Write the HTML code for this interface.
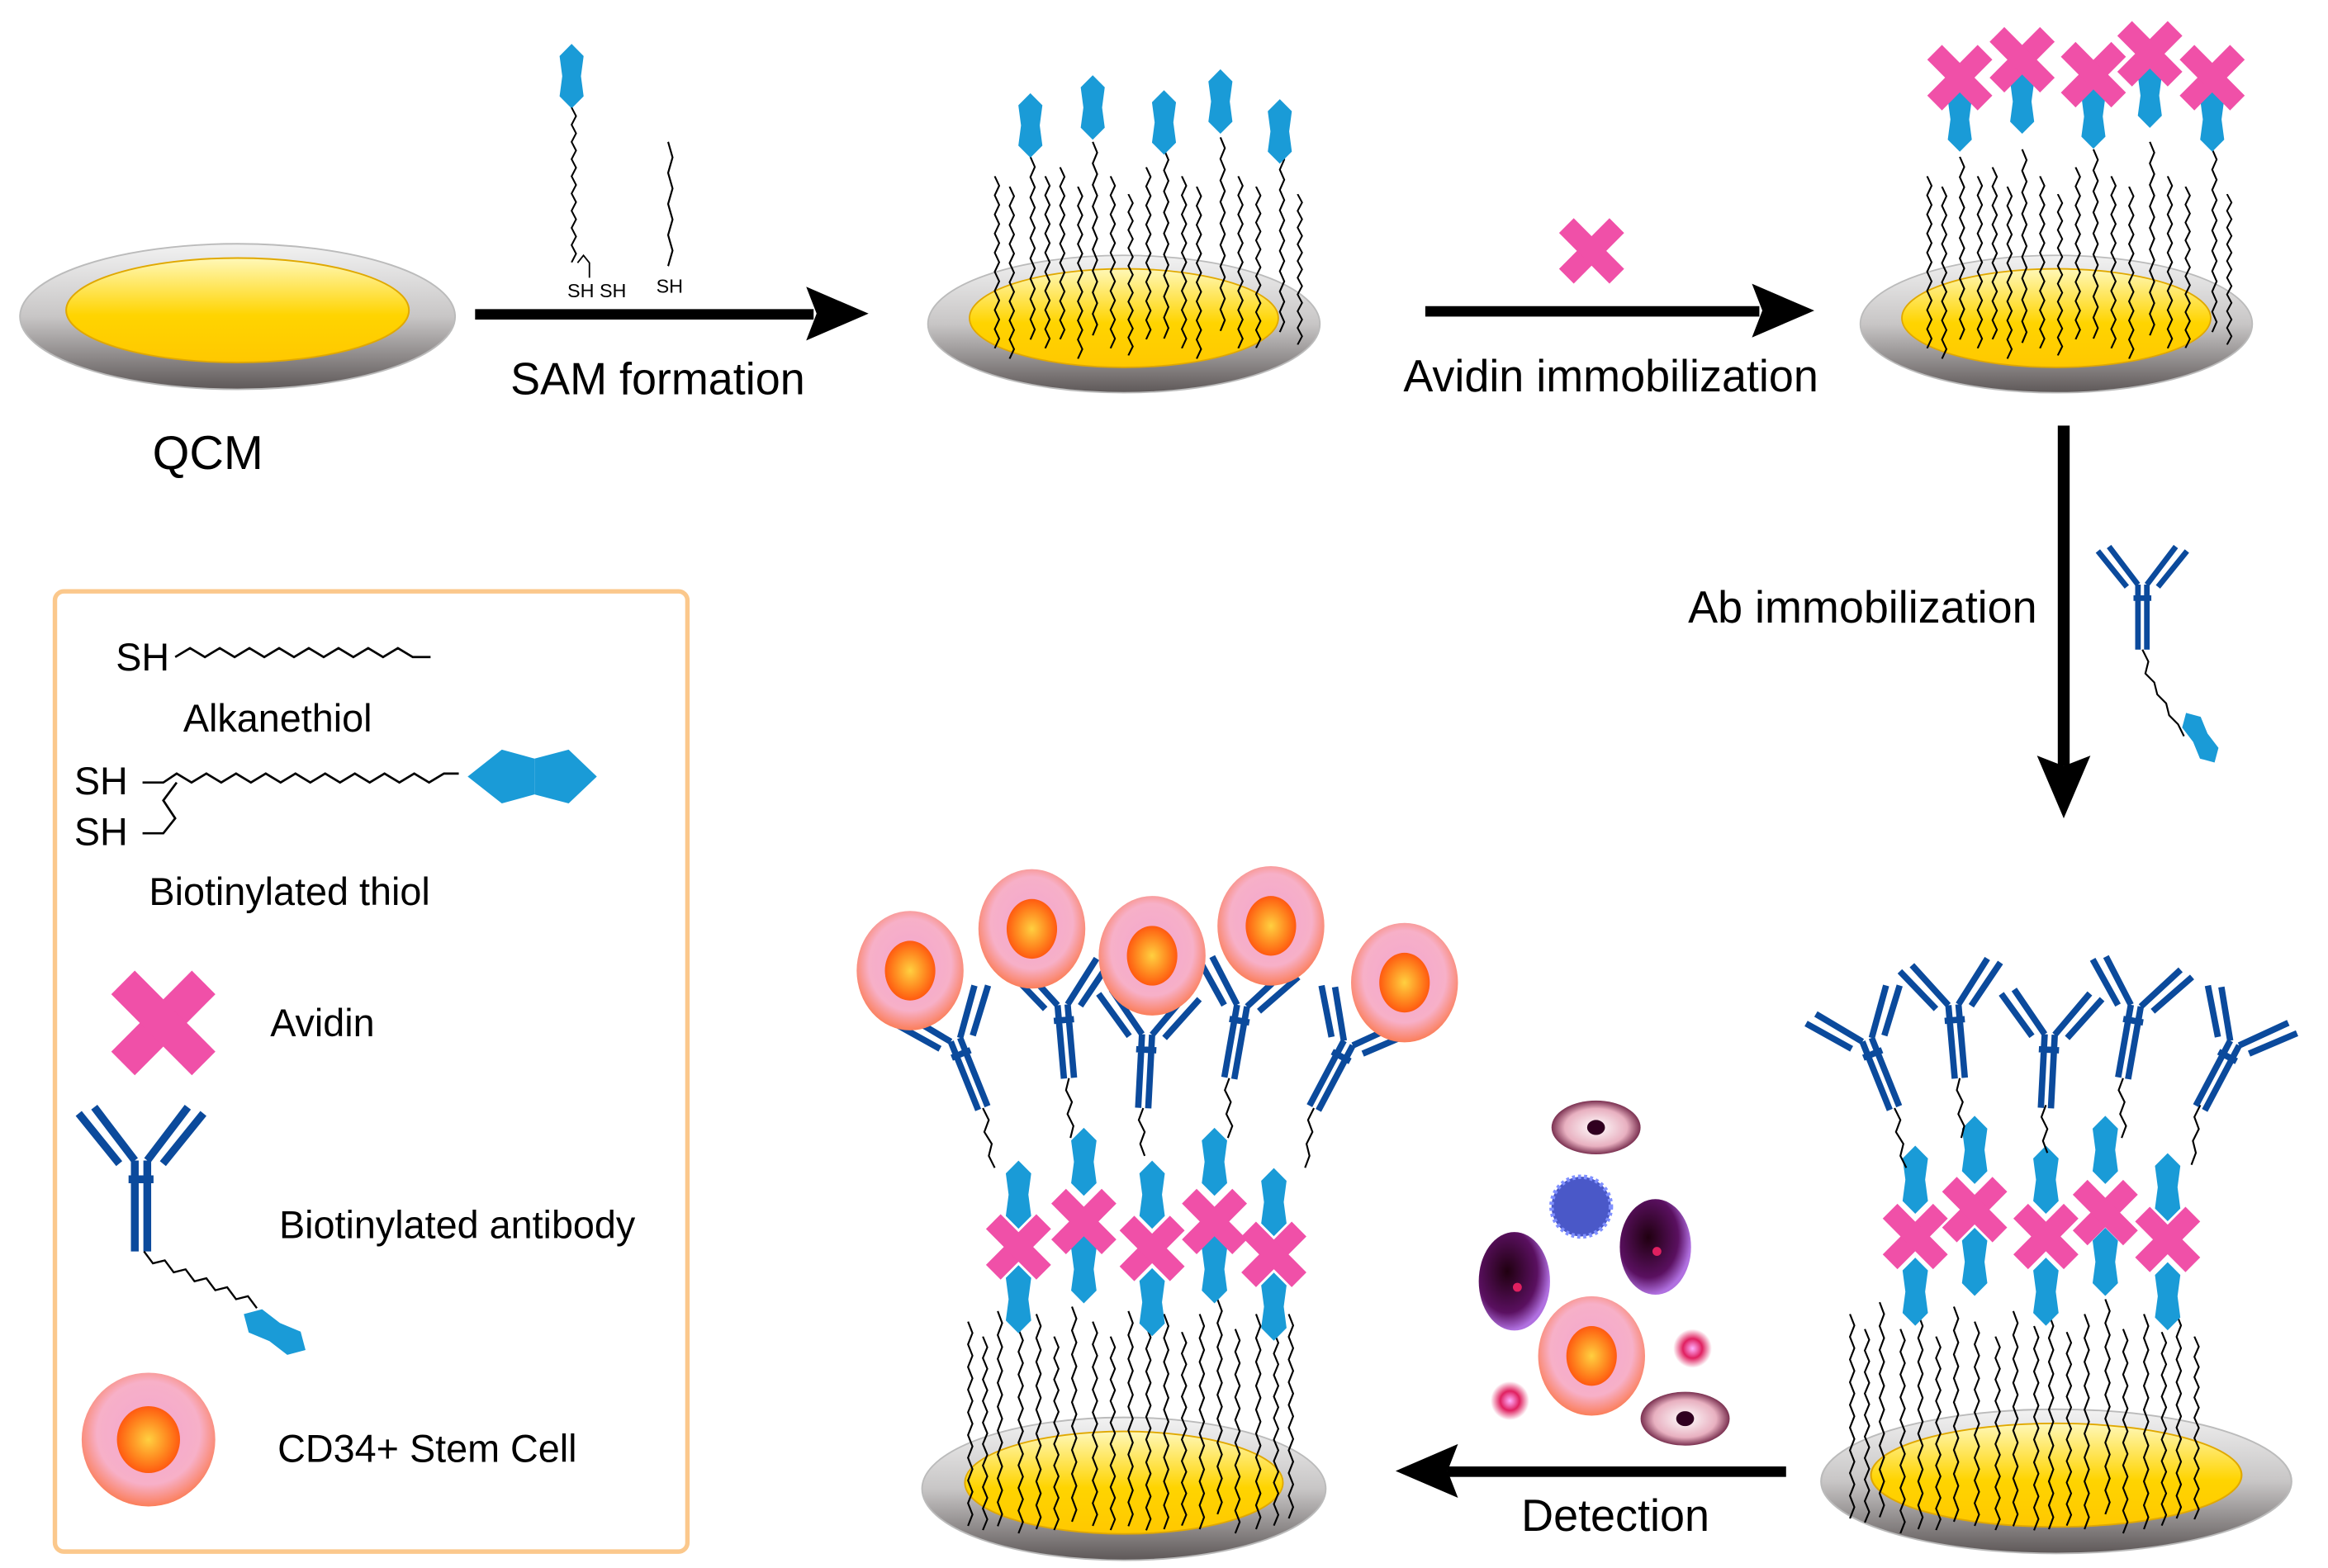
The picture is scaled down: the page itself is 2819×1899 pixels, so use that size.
<!DOCTYPE html>
<html><head><meta charset="utf-8"><style>
html,body{margin:0;padding:0;background:#fff}
svg{display:block}
text{font-family:"Liberation Sans",sans-serif;fill:#000}
</style></head><body>
<svg width="2819" height="1899" viewBox="0 0 1568 1050" preserveAspectRatio="none" xmlns="http://www.w3.org/2000/svg">
<defs>
<linearGradient id="ring" x1="0" y1="0" x2="0" y2="1"><stop offset="0" stop-color="#f2f2f2"/><stop offset="0.5" stop-color="#c8c6c6"/><stop offset="1" stop-color="#5e5858"/></linearGradient>
<linearGradient id="gold" x1="0" y1="0" x2="0" y2="1"><stop offset="0" stop-color="#fff8b8"/><stop offset="0.55" stop-color="#ffd400"/><stop offset="1" stop-color="#ffc800"/></linearGradient>
<radialGradient id="cellg" cx="0.5" cy="0.45" r="0.55"><stop offset="0" stop-color="#f2a6cf"/><stop offset="0.7" stop-color="#f7b0c8"/><stop offset="1" stop-color="#fb7e5a"/></radialGradient>
<radialGradient id="nuc" cx="0.5" cy="0.5" r="0.5"><stop offset="0" stop-color="#ffd040"/><stop offset="0.6" stop-color="#ff8a20"/><stop offset="1" stop-color="#ff5a10"/></radialGradient>
<radialGradient id="pinkc" cx="0.5" cy="0.5" r="0.5"><stop offset="0" stop-color="#fff"/><stop offset="0.7" stop-color="#e8b0c0"/><stop offset="1" stop-color="#7a3050"/></radialGradient>
<radialGradient id="purp" cx="0.4" cy="0.4" r="0.6"><stop offset="0" stop-color="#200010"/><stop offset="0.7" stop-color="#5a1060"/><stop offset="1" stop-color="#b070e0"/></radialGradient>
<radialGradient id="redc" cx="0.5" cy="0.5" r="0.5"><stop offset="0" stop-color="#ffb0ff"/><stop offset="0.5" stop-color="#e02060"/><stop offset="1" stop-color="#fff"/></radialGradient>
<g id="disk"><ellipse cx="0" cy="0" rx="132" ry="46" fill="url(#ring)" stroke="#bbb" stroke-width="1"/><ellipse cx="0" cy="-4" rx="104" ry="33" fill="url(#gold)" stroke="#e0a800" stroke-width="1"/></g>
<path id="ch" d="M0 0 l3 8 l-3 8 l3 8 l-3 8 l3 8 l-3 8 l3 8 l-3 8 l3 8 l-3 8 l3 8 l-3 8 l3 8 l-3 8 l3 8 l-3 8 l3 8 l-3 8" fill="none" stroke="#000" stroke-width="1.2"/>
<path id="chs" d="M0 0 l3 8 l-3 8 l3 8 l-3 8 l3 8 l-3 8 l3 8 l-3 8" fill="none" stroke="#000" stroke-width="1.2"/>
<polygon id="bio" points="0,-24 9,-15 7,0 9,15 0,24 -9,15 -7,0 -9,-15" fill="#1a9bd7"/>
<g id="avi" fill="#f050a8"><rect x="-7" y="-24" width="14" height="48" transform="rotate(45)"/><rect x="-7" y="-24" width="14" height="48" transform="rotate(-45)"/></g>
<g id="ab" fill="none" stroke="#0b4a9c" stroke-width="5">
<path d="M-4 0 V-58 M4 0 V-58 M-4 -58 L-30 -92 M4 -58 L30 -92 M-14 -56 L-40 -88 M14 -56 L40 -88 M-8 -46 H8"/></g>
<g id="cell"><ellipse rx="36" ry="40" fill="url(#cellg)"/><ellipse rx="17" ry="20" fill="url(#nuc)"/></g>
</defs>

<use href="#disk" transform="translate(160,212) scale(1.11,1.06)"/>
<text x="140" y="314" font-size="32" text-anchor="middle">QCM</text>

<rect x="320" y="207" width="228" height="7" fill="#000"/>
<polygon points="585,210 543,192 550,210 543,228" fill="#000"/>
<text x="443" y="264" font-size="30" text-anchor="middle">SAM formation</text>
<use href="#bio" transform="translate(385,51) scale(0.9)"/>
<use href="#ch" transform="translate(385,72) scale(1,0.72)"/>
<path d="M389 176 l4 -5 l4 5 v10" fill="none" stroke="#000" stroke-width="1"/>
<use href="#chs" transform="translate(450,95) scale(1,1.3)"/>
<text x="402" y="199" font-size="13" text-anchor="middle">SH SH</text>
<text x="451" y="196" font-size="13" text-anchor="middle">SH</text>

<use href="#disk" transform="translate(757,217)"/>
<g>
<use href="#ch" transform="translate(670,118) scale(1,0.8)"/><use href="#ch" transform="translate(680,125) scale(1,0.8)"/>
<use href="#ch" transform="translate(694,105) scale(1,0.85)"/><use href="#ch" transform="translate(704,118) scale(1,0.8)"/>
<use href="#ch" transform="translate(714,112) scale(1,0.8)"/><use href="#ch" transform="translate(726,125) scale(1,0.8)"/>
<use href="#ch" transform="translate(736,95) scale(1,0.9)"/><use href="#ch" transform="translate(748,118) scale(1,0.8)"/>
<use href="#ch" transform="translate(760,130) scale(1,0.75)"/><use href="#ch" transform="translate(772,112) scale(1,0.8)"/>
<use href="#ch" transform="translate(784,100) scale(1,0.88)"/><use href="#ch" transform="translate(796,118) scale(1,0.8)"/>
<use href="#ch" transform="translate(806,125) scale(1,0.8)"/><use href="#ch" transform="translate(822,92) scale(1,0.9)"/>
<use href="#ch" transform="translate(834,118) scale(1,0.8)"/><use href="#ch" transform="translate(846,125) scale(1,0.75)"/>
<use href="#ch" transform="translate(862,100) scale(1,0.85)"/><use href="#ch" transform="translate(874,130) scale(1,0.7)"/>
</g>
<use href="#bio" transform="translate(694,84) scale(0.9)"/><use href="#bio" transform="translate(736,72) scale(0.9)"/>
<use href="#bio" transform="translate(784,82) scale(0.9)"/><use href="#bio" transform="translate(822,68) scale(0.9)"/>
<use href="#bio" transform="translate(862,88) scale(0.9)"/>

<rect x="960" y="205" width="225" height="7" fill="#000"/>
<polygon points="1222,208 1180,190 1187,208 1180,226" fill="#000"/>
<use href="#avi" transform="translate(1072,168)"/>
<text x="1085" y="262" font-size="30" text-anchor="middle">Avidin immobilization</text>

<use href="#disk" transform="translate(1385,217)"/>
<g>
<use href="#ch" transform="translate(1298,118) scale(1,0.8)"/><use href="#ch" transform="translate(1308,125) scale(1,0.8)"/>
<use href="#ch" transform="translate(1320,105) scale(1,0.85)"/><use href="#ch" transform="translate(1332,118) scale(1,0.8)"/>
<use href="#ch" transform="translate(1342,112) scale(1,0.8)"/><use href="#ch" transform="translate(1352,125) scale(1,0.8)"/>
<use href="#ch" transform="translate(1362,100) scale(1,0.9)"/><use href="#ch" transform="translate(1374,118) scale(1,0.8)"/>
<use href="#ch" transform="translate(1386,130) scale(1,0.75)"/><use href="#ch" transform="translate(1398,112) scale(1,0.8)"/>
<use href="#ch" transform="translate(1410,100) scale(1,0.88)"/><use href="#ch" transform="translate(1422,118) scale(1,0.8)"/>
<use href="#ch" transform="translate(1434,125) scale(1,0.8)"/><use href="#ch" transform="translate(1448,95) scale(1,0.9)"/>
<use href="#ch" transform="translate(1460,118) scale(1,0.8)"/><use href="#ch" transform="translate(1472,125) scale(1,0.75)"/>
<use href="#ch" transform="translate(1490,100) scale(1,0.85)"/><use href="#ch" transform="translate(1500,130) scale(1,0.7)"/>
</g>
<use href="#bio" transform="translate(1320,80) scale(0.9)"/><use href="#bio" transform="translate(1362,68) scale(0.9)"/>
<use href="#bio" transform="translate(1410,78) scale(0.9)"/><use href="#bio" transform="translate(1448,64) scale(0.9)"/>
<use href="#bio" transform="translate(1490,80) scale(0.9)"/>
<use href="#avi" transform="translate(1320,52)"/><use href="#avi" transform="translate(1362,40)"/>
<use href="#avi" transform="translate(1410,50)"/><use href="#avi" transform="translate(1448,36)"/>
<use href="#avi" transform="translate(1490,52)"/>

<rect x="1386" y="285" width="8" height="228" fill="#000"/>
<polygon points="1390,548 1372,506 1390,513 1408,506" fill="#000"/>
<text x="1372" y="417" font-size="30" text-anchor="end">Ab immobilization</text>
<use href="#ab" transform="translate(1443,435) scale(0.75)"/>
<path d="M1443 435 l4 8 l-2 8 l6 6 l2 8 l6 6 l2 8 l6 6 l4 8" fill="none" stroke="#000" stroke-width="1.2"/>
<use href="#bio" transform="translate(1482,494) rotate(-30) scale(0.8)"/>

<use href="#disk" transform="translate(1385,992) scale(1.2,1.05)"/>
<g>
<use href="#ch" transform="translate(1246,880) scale(1,0.95)"/><use href="#ch" transform="translate(1256,890) scale(1,0.9)"/>
<use href="#ch" transform="translate(1266,872) scale(1,1)"/><use href="#ch" transform="translate(1280,890) scale(1,0.95)"/>
<use href="#ch" transform="translate(1292,880) scale(1,1)"/><use href="#ch" transform="translate(1304,895) scale(1,0.9)"/>
<use href="#ch" transform="translate(1316,875) scale(1,1)"/><use href="#ch" transform="translate(1330,885) scale(1,0.95)"/>
<use href="#ch" transform="translate(1344,895) scale(1,0.9)"/><use href="#ch" transform="translate(1356,878) scale(1,1)"/>
<use href="#ch" transform="translate(1370,888) scale(1,0.95)"/><use href="#ch" transform="translate(1380,880) scale(1,1)"/>
<use href="#ch" transform="translate(1392,892) scale(1,0.9)"/><use href="#ch" transform="translate(1404,880) scale(1,1)"/>
<use href="#ch" transform="translate(1418,870) scale(1,1)"/><use href="#ch" transform="translate(1430,890) scale(1,0.95)"/>
<use href="#ch" transform="translate(1444,880) scale(1,1)"/><use href="#ch" transform="translate(1456,892) scale(1,0.9)"/>
<use href="#ch" transform="translate(1466,880) scale(1,0.95)"/><use href="#ch" transform="translate(1478,895) scale(1,0.85)"/>
</g>
<g transform="translate(1290,0)"><use href="#bio" transform="translate(0,790) scale(0.95)"/><use href="#bio" transform="translate(0,865) scale(0.95)"/><use href="#avi" transform="translate(0,828)"/></g>
<g transform="translate(1330,0)"><use href="#bio" transform="translate(0,770) scale(0.95)"/><use href="#bio" transform="translate(0,845) scale(0.95)"/><use href="#avi" transform="translate(0,810)"/></g>
<g transform="translate(1378,0)"><use href="#bio" transform="translate(0,790) scale(0.95)"/><use href="#bio" transform="translate(0,865) scale(0.95)"/><use href="#avi" transform="translate(0,828)"/></g>
<g transform="translate(1418,0)"><use href="#bio" transform="translate(0,770) scale(0.95)"/><use href="#bio" transform="translate(0,845) scale(0.95)"/><use href="#avi" transform="translate(0,812)"/></g>
<g transform="translate(1460,0)"><use href="#bio" transform="translate(0,795) scale(0.95)"/><use href="#bio" transform="translate(0,868) scale(0.95)"/><use href="#avi" transform="translate(0,830)"/></g>
<g>
<path d="M1276 742 l4 8 l-3 8 l5 8 l-2 8 l4 8" fill="none" stroke="#000" stroke-width="1.2"/>
<path d="M1320 722 l-2 8 l4 8 l-3 8 l4 8 l-2 8" fill="none" stroke="#000" stroke-width="1.2"/>
<path d="M1378 740 l-3 8 l4 8 l-3 8 l3 8" fill="none" stroke="#000" stroke-width="1.2"/>
<path d="M1430 722 l-3 8 l4 8 l-3 8 l4 8 l-3 8" fill="none" stroke="#000" stroke-width="1.2"/>
<path d="M1482 740 l-4 8 l3 8 l-4 8 l2 8 l-3 8" fill="none" stroke="#000" stroke-width="1.2"/>
</g>
<use href="#ab" transform="translate(1276,742) rotate(-22) scale(0.85)"/>
<use href="#ab" transform="translate(1320,722) rotate(-5) scale(0.85)"/>
<use href="#ab" transform="translate(1378,742) rotate(3) scale(0.85)"/>
<use href="#ab" transform="translate(1430,722) rotate(10) scale(0.85)"/>
<use href="#ab" transform="translate(1482,742) rotate(28) scale(0.85)"/>

<rect x="975" y="982" width="228" height="7" fill="#000"/>
<polygon points="940,985 982,967 975,985 982,1003" fill="#000"/>
<text x="1088" y="1025" font-size="30" text-anchor="middle">Detection</text>

<ellipse cx="1075" cy="755" rx="30" ry="18" fill="url(#pinkc)"/><ellipse cx="1075" cy="755" rx="6" ry="5" fill="#300020"/>
<circle cx="1065" cy="808" r="20" fill="#4a58c8" stroke="#8090ff" stroke-width="3" stroke-dasharray="2 2"/>
<ellipse cx="1020" cy="858" rx="24" ry="33" fill="url(#purp)"/><circle cx="1022" cy="862" r="3" fill="#e02060"/>
<ellipse cx="1115" cy="835" rx="24" ry="32" fill="url(#purp)"/><circle cx="1116" cy="838" r="3" fill="#e02060"/>
<use href="#cell" transform="translate(1072,908)"/>
<circle cx="1140" cy="903" r="13" fill="url(#redc)"/>
<circle cx="1017" cy="938" r="13" fill="url(#redc)"/>
<ellipse cx="1135" cy="950" rx="30" ry="18" fill="url(#pinkc)"/><ellipse cx="1135" cy="950" rx="6" ry="5" fill="#300020"/>

<use href="#disk" transform="translate(757,997) scale(1.03,1.04)"/>
<g>
<use href="#ch" transform="translate(652,885) scale(1,0.95)"/><use href="#ch" transform="translate(662,895) scale(1,0.9)"/>
<use href="#ch" transform="translate(672,878) scale(1,1)"/><use href="#ch" transform="translate(686,890) scale(1,0.95)"/>
<use href="#ch" transform="translate(698,880) scale(1,1)"/><use href="#ch" transform="translate(710,895) scale(1,0.9)"/>
<use href="#ch" transform="translate(722,875) scale(1,1)"/><use href="#ch" transform="translate(736,885) scale(1,0.95)"/>
<use href="#ch" transform="translate(748,895) scale(1,0.9)"/><use href="#ch" transform="translate(760,878) scale(1,1)"/>
<use href="#ch" transform="translate(772,888) scale(1,0.95)"/><use href="#ch" transform="translate(784,880) scale(1,1)"/>
<use href="#ch" transform="translate(796,892) scale(1,0.9)"/><use href="#ch" transform="translate(808,880) scale(1,1)"/>
<use href="#ch" transform="translate(820,870) scale(1,1)"/><use href="#ch" transform="translate(832,890) scale(1,0.95)"/>
<use href="#ch" transform="translate(846,880) scale(1,1)"/><use href="#ch" transform="translate(858,892) scale(1,0.9)"/>
<use href="#ch" transform="translate(868,880) scale(1,0.95)"/>
</g>
<g transform="translate(686,0)"><use href="#bio" transform="translate(0,800) scale(0.95)"/><use href="#bio" transform="translate(0,870) scale(0.95)"/><use href="#avi" transform="translate(0,835)"/></g>
<g transform="translate(730,0)"><use href="#bio" transform="translate(0,778) scale(0.95)"/><use href="#bio" transform="translate(0,850) scale(0.95)"/><use href="#avi" transform="translate(0,818)"/></g>
<g transform="translate(776,0)"><use href="#bio" transform="translate(0,800) scale(0.95)"/><use href="#bio" transform="translate(0,872) scale(0.95)"/><use href="#avi" transform="translate(0,836)"/></g>
<g transform="translate(818,0)"><use href="#bio" transform="translate(0,778) scale(0.95)"/><use href="#bio" transform="translate(0,850) scale(0.95)"/><use href="#avi" transform="translate(0,818)"/></g>
<g transform="translate(858,0)"><use href="#bio" transform="translate(0,805) scale(0.95)"/><use href="#bio" transform="translate(0,875) scale(0.95)"/><use href="#avi" transform="translate(0,840)"/></g>
<g>
<path d="M662 742 l4 8 l-3 8 l5 8 l-2 8 l4 8" fill="none" stroke="#000" stroke-width="1.2"/>
<path d="M720 722 l-2 8 l4 8 l-3 8 l4 8 l-2 8" fill="none" stroke="#000" stroke-width="1.2"/>
<path d="M770 742 l-3 8 l4 8 l-3 8 l3 8" fill="none" stroke="#000" stroke-width="1.2"/>
<path d="M828 722 l-3 8 l4 8 l-3 8 l4 8 l-3 8" fill="none" stroke="#000" stroke-width="1.2"/>
<path d="M885 742 l-4 8 l3 8 l-4 8 l2 8 l-3 8" fill="none" stroke="#000" stroke-width="1.2"/>
</g>
<use href="#ab" transform="translate(662,742) rotate(-22) scale(0.85)"/>
<use href="#ab" transform="translate(720,722) rotate(-5) scale(0.85)"/>
<use href="#ab" transform="translate(770,742) rotate(3) scale(0.85)"/>
<use href="#ab" transform="translate(828,722) rotate(10) scale(0.85)"/>
<use href="#ab" transform="translate(885,742) rotate(28) scale(0.85)"/>
<use href="#cell" transform="translate(613,650)"/>
<use href="#cell" transform="translate(695,622)"/>
<use href="#cell" transform="translate(776,640)"/>
<use href="#cell" transform="translate(856,620)"/>
<use href="#cell" transform="translate(946,658)"/>

<rect x="37" y="396" width="426" height="643" rx="6" fill="none" stroke="#fbc88c" stroke-width="3"/>
<text x="78" y="449" font-size="26">SH</text>
<path d="M118 440 l10 -6 l10 6 l10 -6 l10 6 l10 -6 l10 6 l10 -6 l10 6 l10 -6 l10 6 l10 -6 l10 6 l10 -6 l10 6 l10 -6 l10 6 l12 0" fill="none" stroke="#000" stroke-width="1.5"/>
<text x="187" y="490" font-size="26" text-anchor="middle">Alkanethiol</text>
<text x="50" y="532" font-size="26">SH</text>
<text x="50" y="566" font-size="26">SH</text>
<path d="M96 524 h14 l9 -6 l10 6 l10 -6 l10 6 l10 -6 l10 6 l10 -6 l10 6 l10 -6 l10 6 l10 -6 l10 6 l10 -6 l10 6 l10 -6 l10 6 l10 -6 l10 6 l10 -6 h10 M96 558 h14 l8 -10 l-8 -12 l9 -12" fill="none" stroke="#000" stroke-width="1.5"/>
<polygon points="315,520 338,502 360,508 360,532 338,538" fill="#1a9bd7"/>
<polygon points="360,508 383,502 402,520 383,538 360,532" fill="#1a9bd7"/>
<text x="195" y="606" font-size="26" text-anchor="middle">Biotinylated thiol</text>
<use href="#avi" transform="translate(110,685) scale(1.6)"/>
<text x="182" y="694" font-size="26">Avidin</text>
<use href="#ab" transform="translate(95,838) scale(1.05)"/>
<path d="M97 838 l6 8 l8 -2 l6 8 l8 -2 l6 8 l8 -2 l6 8 l8 -2 l6 8 l8 -2 l6 8" fill="none" stroke="#000" stroke-width="1.3"/>
<use href="#bio" transform="translate(185,892) rotate(-60) scale(1.0)"/>
<text x="188" y="829" font-size="26">Biotinylated antibody</text>
<g transform="translate(100,964) scale(1.25,1.12)"><use href="#cell"/></g>
<text x="187" y="979" font-size="26">CD34+ Stem Cell</text>
</svg>
</body></html>
